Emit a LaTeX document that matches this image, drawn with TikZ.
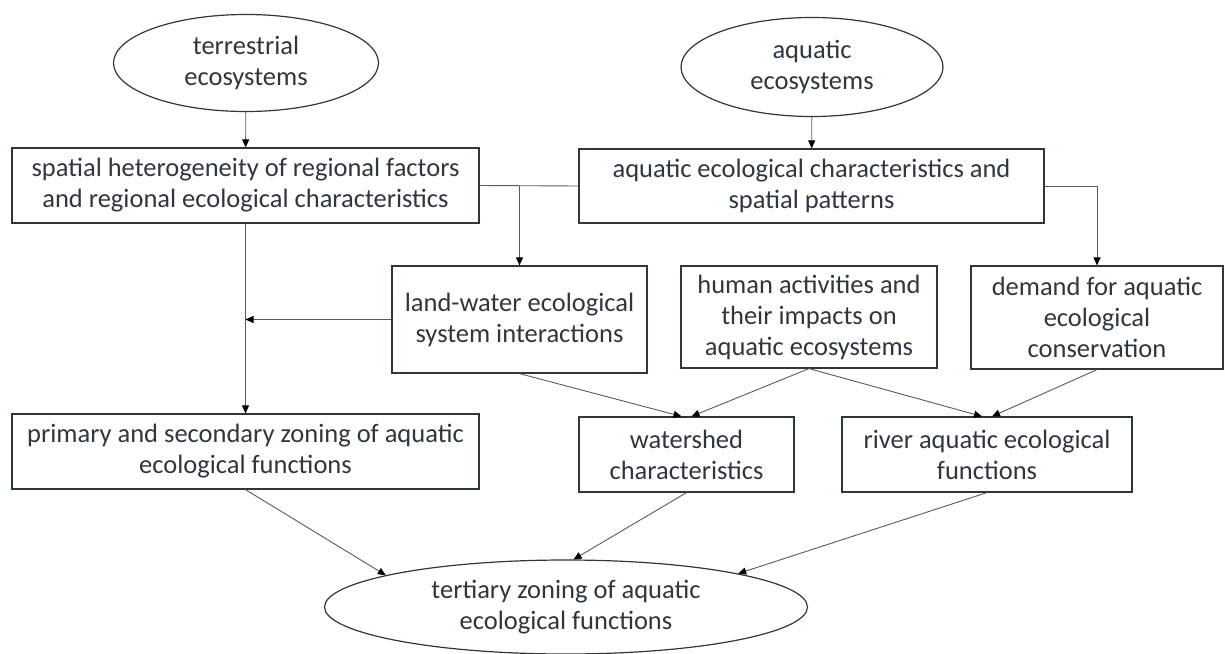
\documentclass[tikz,border=0pt]{standalone}
\usepackage{fontspec}
\setmainfont{Carlito}
\usetikzlibrary{shapes.geometric,arrows.meta,positioning}
\definecolor{txtgray}{HTML}{30363E}
\definecolor{linegray}{HTML}{5A5A5A}
\begin{document}
\begin{tikzpicture}[x=1pt,y=-1pt,
	box/.style={draw=txtgray,line width=1.2pt,rectangle,align=center,inner sep=0pt,text=txtgray,font=\fontsize{26.5}{31}\selectfont},
	oval/.style={draw=txtgray,line width=1.2pt,ellipse,align=center,inner sep=0pt,text=txtgray,font=\fontsize{26.5}{31}\selectfont},
	link/.style={draw=linegray,line width=0.9pt},
	arr/.style={link,-{Triangle[length=8pt,width=7pt,color=black]}}]
		\useasboundingbox (0,0) rectangle (1225,653);
		\node[oval,minimum width=265,minimum height=97](terr) at (246,63) {terrestrial\\ecosystems};
		\node[oval,minimum width=262,minimum height=99](aqeco) at (812,67) {aquatic\\ecosystems};
		\node[box,minimum width=467,minimum height=75](spat) at (245.5,185.5) {spatial heterogeneity of regional factors\\and regional ecological characteristics};
		\node[box,minimum width=465,minimum height=74](aqchar) at (811.5,186) {aquatic ecological characteristics and\\spatial patterns};
		\node[box,minimum width=255,minimum height=107](landw) at (519.5,319.5) {land-water ecological\\system interactions};
		\node[box,minimum width=256,minimum height=102](human) at (809,317) {human activities and\\their impacts on\\aquatic ecosystems};
		\node[box,minimum width=252,minimum height=103](demand) at (1097,317.5) {demand for aquatic\\ecological\\conservation};
		\node[box,minimum width=467,minimum height=75](prim) at (245.5,451.5) {primary and secondary zoning of aquatic\\ecological functions};
		\node[box,minimum width=215,minimum height=75](wshed) at (686.5,454.5) {watershed\\characteristics};
		\node[box,minimum width=290,minimum height=75](river) at (987,454.5) {river aquatic ecological\\functions};
		\node[oval,minimum width=483,minimum height=94](tert) at (566,607) {tertiary zoning of aquatic\\ecological functions};
		% top part
		\path
		(terr) edge[arr] (spat)
		(aqeco) edge[arr] (aqchar)
		(spat) edge[arr] (prim);
		\draw[link] (spat.east) -- (aqchar.west);
		\draw[arr] (landw.north |- spat.east) -- (landw.north);
		\draw[arr] (aqchar.east) -| (demand.north);
		\draw[arr] (landw.west) -- (spat.south |- landw.west);
		% lower part
		\path
		(landw.south) edge[arr] ([xshift=-5pt]wshed.north)
		(human.south) edge[arr] ([xshift=5pt]wshed.north)
		(human.south) edge[arr] ([xshift=-5pt]river.north)
		(demand.south) edge[arr] ([xshift=5pt]river.north)
		(prim.south) edge[arr] (tert.170)
		(wshed.south) edge[arr] (tert.81)
		(river.south) edge[arr] (tert.11);
\end{tikzpicture}
\end{document}
